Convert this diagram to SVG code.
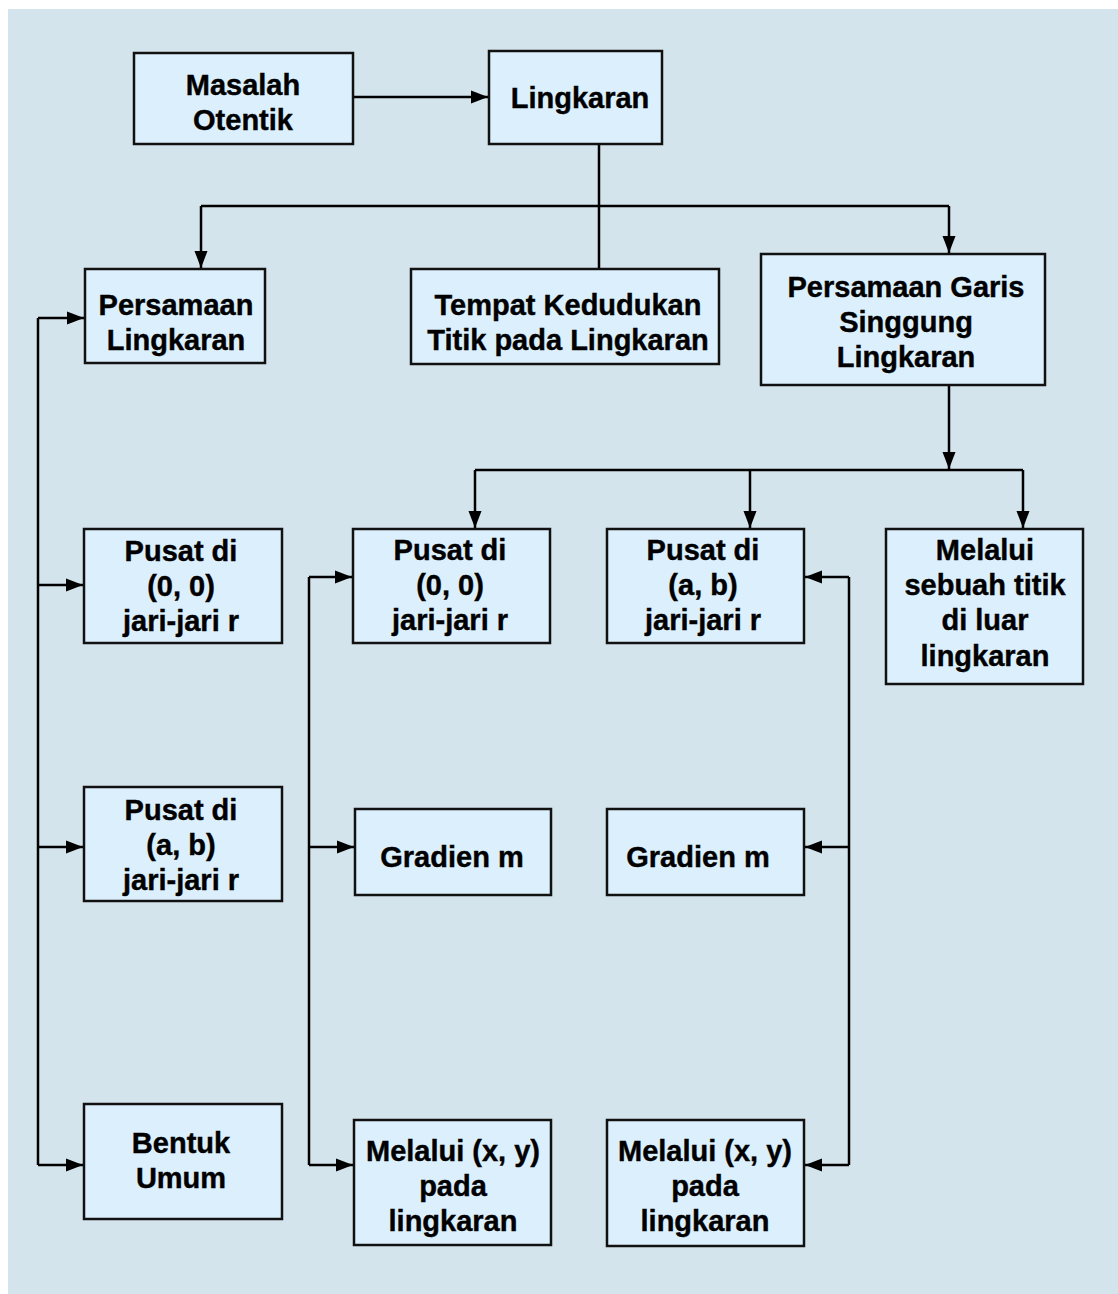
<svg xmlns="http://www.w3.org/2000/svg" width="1118" height="1294" viewBox="0 0 1118 1294">
<defs>
<marker id="ah" markerUnits="userSpaceOnUse" markerWidth="18" markerHeight="14" refX="17" refY="7" orient="auto">
<path d="M0,0.5 L17,7 L0,13.5 z" fill="#000"/>
</marker>
<style>
.box{fill:#dbeffc;stroke:#111;stroke-width:2.5}
.t{font-weight:bold;font-size:29px;fill:#000;stroke:#000;stroke-width:0.4;text-anchor:middle}
.c{fill:none;stroke:#000;stroke-width:2.5}
.a{marker-end:url(#ah)}
</style>
</defs>
<rect x="0" y="0" width="1118" height="1294" fill="#fff"/>
<rect x="8" y="9" width="1110" height="1285" fill="#d4e4ed"/>
<g id="connectors">
<path class="c a" d="M353,97 H488"/>
<path class="c" d="M599,144 V269"/>
<path class="c" d="M201,206 H949"/>
<path class="c a" d="M201,206 V268"/>
<path class="c a" d="M949,206 V253"/>
<path class="c a" d="M949,385 V469"/>
<path class="c" d="M475,470 H1023"/>
<path class="c a" d="M475,470 V528"/>
<path class="c a" d="M750,470 V528"/>
<path class="c a" d="M1023,470 V528"/>
<path class="c" d="M38,318 V1165"/>
<path class="c a" d="M38,318 H84"/>
<path class="c a" d="M38,585 H83"/>
<path class="c a" d="M38,847 H83"/>
<path class="c a" d="M38,1165 H83"/>
<path class="c" d="M309,577 V1165"/>
<path class="c a" d="M309,577 H352"/>
<path class="c a" d="M309,847 H354"/>
<path class="c a" d="M309,1165 H353"/>
<path class="c" d="M849,577 V1165"/>
<path class="c a" d="M849,577 H805"/>
<path class="c a" d="M849,847 H805"/>
<path class="c a" d="M849,1165 H805"/>
</g>
<g font-family="'Liberation Sans', Arial, Helvetica, sans-serif">
<g id="masalah"><rect class="box" x="134" y="53" width="219" height="91"/><text class="t" x="243" y="95">Masalah</text><text class="t" x="243" y="130">Otentik</text></g>
<g id="lingkaran"><rect class="box" x="489" y="51" width="173" height="93"/><text class="t" x="580" y="108">Lingkaran</text></g>
<g id="persamaan-lingkaran"><rect class="box" x="85" y="269" width="180" height="94"/><text class="t" x="176" y="315">Persamaan</text><text class="t" x="176" y="350">Lingkaran</text></g>
<g id="tempat-kedudukan"><rect class="box" x="411" y="269" width="308" height="95"/><text class="t" x="568" y="315">Tempat Kedudukan</text><text class="t" x="568" y="350">Titik pada Lingkaran</text></g>
<g id="persamaan-garis"><rect class="box" x="761" y="254" width="284" height="131"/><text class="t" x="906" y="297">Persamaan Garis</text><text class="t" x="906" y="332">Singgung</text><text class="t" x="906" y="367">Lingkaran</text></g>
<g id="l-pusat00"><rect class="box" x="84" y="529" width="198" height="114"/><text class="t" x="181" y="561">Pusat di</text><text class="t" x="181" y="596">(0, 0)</text><text class="t" x="181" y="631">jari-jari r</text></g>
<g id="l-pusatab"><rect class="box" x="84" y="787" width="198" height="114"/><text class="t" x="181" y="820">Pusat di</text><text class="t" x="181" y="855">(a, b)</text><text class="t" x="181" y="890">jari-jari r</text></g>
<g id="l-bentuk"><rect class="box" x="84" y="1104" width="198" height="115"/><text class="t" x="181" y="1153">Bentuk</text><text class="t" x="181" y="1188">Umum</text></g>
<g id="m-pusat00"><rect class="box" x="353" y="529" width="197" height="114"/><text class="t" x="450" y="560">Pusat di</text><text class="t" x="450" y="595">(0, 0)</text><text class="t" x="450" y="630">jari-jari r</text></g>
<g id="m-gradien"><rect class="box" x="355" y="809" width="196" height="86"/><text class="t" x="452" y="867">Gradien m</text></g>
<g id="m-melalui"><rect class="box" x="354" y="1120" width="197" height="125"/><text class="t" x="453" y="1161">Melalui (x, y)</text><text class="t" x="453" y="1196">pada</text><text class="t" x="453" y="1231">lingkaran</text></g>
<g id="r-pusatab"><rect class="box" x="607" y="529" width="197" height="114"/><text class="t" x="703" y="560">Pusat di</text><text class="t" x="703" y="595">(a, b)</text><text class="t" x="703" y="630">jari-jari r</text></g>
<g id="r-gradien"><rect class="box" x="607" y="809" width="197" height="86"/><text class="t" x="698" y="867">Gradien m</text></g>
<g id="r-melalui"><rect class="box" x="607" y="1120" width="197" height="126"/><text class="t" x="705" y="1161">Melalui (x, y)</text><text class="t" x="705" y="1196">pada</text><text class="t" x="705" y="1231">lingkaran</text></g>
<g id="melalui-titik"><rect class="box" x="886" y="529" width="197" height="155"/><text class="t" x="985" y="560">Melalui</text><text class="t" x="985" y="595">sebuah titik</text><text class="t" x="985" y="630">di luar</text><text class="t" x="985" y="666">lingkaran</text></g>
</g>
</svg>
